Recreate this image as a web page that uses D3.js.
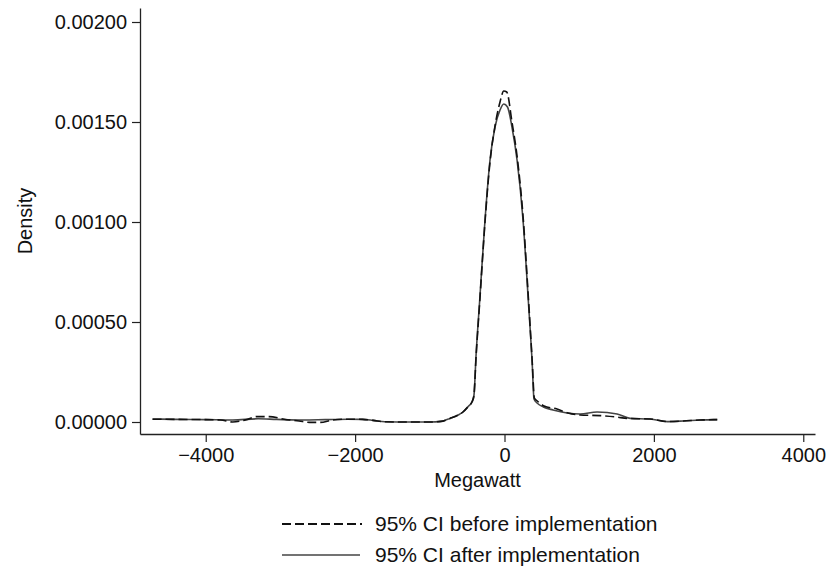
<!DOCTYPE html>
<html>
<head>
<meta charset="utf-8">
<script src="https://cdn.jsdelivr.net/npm/d3@7"></script>
<style>
  html, body { margin: 0; padding: 0; background: #fff; }
  text { font-family: "Liberation Sans", Arial, Helvetica, sans-serif; fill: #111; }
</style>
</head>
<body>
<svg id="chart" width="839" height="568"></svg>
<script>
// ---- data ----
const xTicks = [-4000, -2000, 0, 2000, 4000];
const yTicks = [0, 0.0005, 0.001, 0.0015, 0.002];

const beforeX = [-4712, -4400, -4000, -3800, -3640, -3450, -3320, -3150, -2950, -2750, -2610, -2470, -2300, -2100, -1900, -1760, -1600, -1300, -1000, -850, -730, -620, -556, -480, -436, -410, -380, -330, -261, -194, -127, -60, -10, 30, 100, 168, 248, 320, 370, 400, 440, 530, 703, 850, 1012, 1280, 1500, 1640, 1950, 2178, 2393, 2620, 2848];
const beforeY = [1.4e-5, 1.3e-5, 1.2e-5, 1.0e-5, 0, 1.2e-5, 2.7e-5, 2.7e-5, 1.4e-5, 5e-6, -2e-6, -2e-6, 1.0e-5, 1.4e-5, 1.3e-5, 8e-6, 1e-6, 0, 0, 3e-6, 1.8e-5, 3.5e-5, 5e-5, 8e-5, 1.0e-4, 1.3e-4, 3.3e-4, 6.1e-4, 1.0e-3, 1.3e-3, 1.48e-3, 1.6e-3, 1.655e-3, 1.65e-3, 1.5e-3, 1.33e-3, 1.03e-3, 6.2e-4, 3.1e-4, 1.2e-4, 1.05e-4, 8e-5, 6.5e-5, 4.5e-5, 3.5e-5, 3.2e-5, 2.5e-5, 1.8e-5, 1.5e-5, 2e-6, 5e-6, 1.0e-5, 1.2e-5];

const afterX = [-4712, -4400, -4000, -3640, -3300, -3050, -2700, -2400, -2100, -1900, -1760, -1600, -1300, -1000, -850, -730, -620, -556, -480, -436, -410, -380, -330, -261, -194, -127, -60, -10, 40, 100, 168, 248, 320, 370, 395, 436, 520, 650, 838, 1012, 1240, 1508, 1682, 1950, 2178, 2393, 2620, 2848];
const afterY = [1.5e-5, 1.3e-5, 1.2e-5, 1.0e-5, 1.6e-5, 1.3e-5, 1.0e-5, 1.2e-5, 1.4e-5, 1.3e-5, 8e-6, 1e-6, 0, 0, 3e-6, 1.8e-5, 3.5e-5, 5e-5, 8e-5, 1.0e-4, 1.3e-4, 3.4e-4, 6.2e-4, 1.01e-3, 1.31e-3, 1.475e-3, 1.56e-3, 1.59e-3, 1.575e-3, 1.475e-3, 1.31e-3, 1.01e-3, 6.0e-4, 3.0e-4, 1.15e-4, 9.5e-5, 7.5e-5, 6.0e-5, 4.5e-5, 4.0e-5, 5.0e-5, 4.0e-5, 1.8e-5, 1.5e-5, 2e-6, 5e-6, 1.0e-5, 1.2e-5];

const seriesNames = ["95% CI before implementation", "95% CI after implementation"];

// ---- layout ----
const svg = d3.select("#chart");
const mLeft = 140, mRight = 815, mTop = 8, mBottom = 434;

const x = d3.scaleLinear().domain([-4880, 4157]).range([mLeft, mRight]);
const y = d3.scaleLinear().domain([-0.00006, 0.00207]).range([mBottom, mTop]);

const axisColor = "#222";

// x axis
const gx = svg.append("g").attr("transform", `translate(0,${mBottom})`)
  .call(d3.axisBottom(x).tickValues(xTicks).tickFormat(d3.format("d")).tickSize(8).tickPadding(6).tickSizeOuter(0));
gx.select(".domain").attr("stroke", axisColor).attr("stroke-width", 1.3);
gx.selectAll(".tick line").attr("stroke", axisColor).attr("stroke-width", 1.2);
gx.selectAll(".tick text").attr("font-size", 20).attr("fill", "#111").attr("font-family", "Liberation Sans, Arial, sans-serif");

// y axis
const gy = svg.append("g").attr("transform", `translate(${mLeft},0)`)
  .call(d3.axisLeft(y).tickValues(yTicks).tickFormat(d3.format(".5f")).tickSize(8).tickPadding(5).tickSizeOuter(0));
gy.select(".domain").attr("stroke", axisColor).attr("stroke-width", 1.3);
gy.selectAll(".tick line").attr("stroke", axisColor).attr("stroke-width", 1.2);
gy.selectAll(".tick text").attr("font-size", 20).attr("fill", "#111").attr("font-family", "Liberation Sans, Arial, sans-serif");

// axis titles
svg.append("text").attr("x", (mLeft + mRight) / 2).attr("y", 487)
  .attr("text-anchor", "middle").attr("font-size", 20).text("Megawatt");
svg.append("text").attr("transform", `translate(32,${(mTop + mBottom) / 2}) rotate(-90)`)
  .attr("text-anchor", "middle").attr("font-size", 20).text("Density");

// lines
const line = d3.line().x(d => x(d[0])).y(d => y(d[1])).curve(d3.curveMonotoneX);
const before = beforeX.map((v, i) => [v, beforeY[i]]);
const after = afterX.map((v, i) => [v, afterY[i]]);

svg.append("path").datum(after).attr("d", line)
  .attr("fill", "none").attr("stroke", "#444").attr("stroke-width", 1.6);
svg.append("path").datum(before).attr("d", line)
  .attr("fill", "none").attr("stroke", "#111").attr("stroke-width", 1.6)
  .attr("stroke-dasharray", "9,4");

// legend
const legend = svg.append("g");
const legY = [524, 555];
legend.append("line").attr("x1", 282).attr("x2", 362).attr("y1", legY[0]).attr("y2", legY[0])
  .attr("stroke", "#111").attr("stroke-width", 1.8).attr("stroke-dasharray", "9,4");
legend.append("line").attr("x1", 282).attr("x2", 360).attr("y1", legY[1]).attr("y2", legY[1])
  .attr("stroke", "#444").attr("stroke-width", 1.6);
seriesNames.forEach((s, i) => {
  legend.append("text").attr("x", 375).attr("y", legY[i] + 7).attr("font-size", 21).text(s);
});
</script>
</body>
</html>
